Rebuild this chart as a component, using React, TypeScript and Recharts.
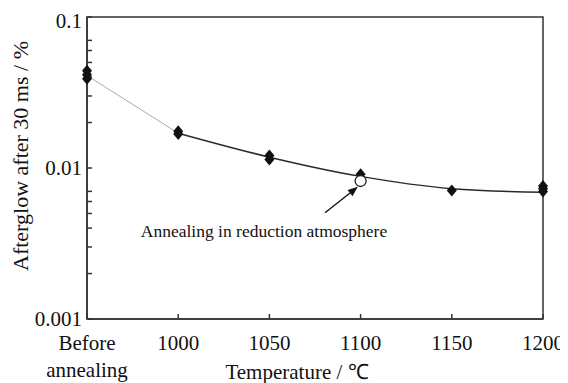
import React from 'react';
import { ComposedChart, XAxis, YAxis, Line, Scatter, ReferenceArea, ReferenceLine } from 'recharts';

// 950 is a placeholder position for the "Before annealing" category
const temperatures = [950, 1000, 1050, 1100, 1150, 1200];
const tickNames = ['Before|annealing', '1000', '1050', '1100', '1150', '1200'];

// individual afterglow measurements (%), several samples per temperature
const sampleTemps = [950, 950, 950, 1000, 1000, 1050, 1050, 1100, 1150, 1200, 1200, 1200];
const sampleValues = [0.044, 0.0415, 0.039, 0.0175, 0.0168, 0.0121, 0.0114, 0.0091, 0.0071, 0.0076, 0.0073, 0.007];

// sample annealed in reduction atmosphere
const reductionTemps = [1100];
const reductionValues = [0.0082];

// trend curve
const trendTemps = [950, 1000, 1050, 1100, 1150, 1200];
const trendValues = [0.041, 0.017, 0.0118, 0.0088, 0.0073, 0.0069];

const yTicks = [
  0.001, 0.002, 0.003, 0.004, 0.005, 0.006, 0.007, 0.008, 0.009,
  0.01, 0.02, 0.03, 0.04, 0.05, 0.06, 0.07, 0.08, 0.09, 0.1,
];
const yLabels: Record<string, string> = { '0.001': '0.001', '0.01': '0.01', '0.1': '0.1' };

// arrow from the note to the reduction-atmosphere point
const arrowFrom = { t: 1080.5, v: 0.00505 };
const arrowTo = { t: 1098.5, v: 0.0075 };

const FONT = 'Liberation Serif, serif';
const textStyle = { fontFamily: FONT };

const samples = sampleTemps.map((t, i) => ({ t, v: sampleValues[i] }));
const reduction = reductionTemps.map((t, i) => ({ t, v: reductionValues[i] }));
const trend = trendTemps.map((t, i) => ({ t, v: trendValues[i] }));
const trendHead = trend.slice(0, 2);
const trendTail = trend.slice(1);

const Diamond = (props: any) => {
  const { cx, cy } = props;
  if (cx == null || cy == null) return null;
  return <polygon points={`${cx},${cy - 6} ${cx + 5},${cy} ${cx},${cy + 6} ${cx - 5},${cy}`} fill="#111" />;
};

const OpenCircle = (props: any) => {
  const { cx, cy } = props;
  if (cx == null || cy == null) return null;
  return <circle cx={cx} cy={cy} r={5.5} fill="#fff" stroke="#222" strokeWidth={1.3} />;
};

const XTick = (props: any) => {
  const { x, y, payload } = props;
  const idx = temperatures.indexOf(payload.value);
  const lines = (idx >= 0 ? tickNames[idx] : String(payload.value)).split('|');
  return (
    <text x={x} y={y} textAnchor="middle" style={textStyle} fontSize={21} fill="#111">
      {lines.map((s, i) => (
        <tspan key={i} x={x} dy={i === 0 ? 31 : 27}>{s}</tspan>
      ))}
    </text>
  );
};

const Arrow = (props: any) => {
  const { x1, y1, x2, y2 } = props;
  if ([x1, y1, x2, y2].some((n) => n == null || isNaN(n))) return null;
  const dx = x2 - x1;
  const dy = y2 - y1;
  const len = Math.hypot(dx, dy);
  const ux = dx / len;
  const uy = dy / len;
  const bx = x2 - ux * 10;
  const by = y2 - uy * 10;
  const head = `${x2},${y2} ${bx - uy * 4},${by + ux * 4} ${bx + uy * 4},${by - ux * 4}`;
  return (
    <g>
      <line x1={x1} y1={y1} x2={bx} y2={by} stroke="#111" strokeWidth={1.4} />
      <polygon points={head} fill="#111" />
      <text x={x1 - 61} y={y1 + 24} textAnchor="middle" style={textStyle} fontSize={17.5} fill="#111">
        Annealing in reduction atmosphere
      </text>
    </g>
  );
};

export default function App() {
  return (
    <ComposedChart
      width={560}
      height={375}
      margin={{ top: 9, right: 25, left: 0, bottom: 0 }}
      style={{ ...textStyle, overflow: 'visible' }}
    >
      <XAxis
        xAxisId="t"
        dataKey="t"
        type="number"
        domain={[950, 1200]}
        ticks={temperatures}
        height={64}
        stroke="#333"
        strokeWidth={1.5}
        tickSize={-5}
        tickMargin={5}
        tick={<XTick />}
        label={(p: any) => {
          const vb = p.viewBox || {};
          return (
            <text x={vb.x + vb.width / 2 - 18} y={vb.y + 60} textAnchor="middle" style={textStyle} fontSize={21} fill="#111">
              Temperature / ℃
            </text>
          );
        }}
      />
      <YAxis
        yAxisId="v"
        dataKey="v"
        scale="log"
        domain={[0.001, 0.1]}
        ticks={yTicks}
        allowDataOverflow
        width={79}
        stroke="#333"
        strokeWidth={1.5}
        tickSize={-5}
        tickMargin={10}
        tickFormatter={(v: number) => yLabels[String(v)] ?? ''}
        tick={{ fontFamily: FONT, fontSize: 21, fill: '#111' }}
        label={(p: any) => {
          const vb = p.viewBox || {};
          const cx = vb.x + 12;
          const cy = vb.y + vb.height / 2 - 12;
          return (
            <text x={cx} y={cy} transform={`rotate(-90 ${cx} ${cy})`} textAnchor="middle" dominantBaseline="central" style={textStyle} fontSize={22} fill="#111">
              Afterglow after 30 ms / %
            </text>
          );
        }}
      />
      <ReferenceArea xAxisId="t" yAxisId="v" x1={950} x2={1200} y1={0.001} y2={0.1} fill="none" stroke="#333" strokeWidth={1.5} ifOverflow="visible" />
      <Line xAxisId="t" yAxisId="v" data={trendHead} dataKey="v" type="linear" stroke="#aaa" strokeWidth={1} dot={false} isAnimationActive={false} />
      <Line xAxisId="t" yAxisId="v" data={trendTail} dataKey="v" type="monotone" stroke="#2a2a2a" strokeWidth={1.5} dot={false} isAnimationActive={false} />
      <Scatter xAxisId="t" yAxisId="v" data={samples} dataKey="v" shape={<Diamond />} isAnimationActive={false} />
      <Scatter xAxisId="t" yAxisId="v" data={reduction} dataKey="v" shape={<OpenCircle />} isAnimationActive={false} />
      <ReferenceLine
        xAxisId="t"
        yAxisId="v"
        segment={[{ x: arrowFrom.t, y: arrowFrom.v }, { x: arrowTo.t, y: arrowTo.v }]}
        ifOverflow="visible"
        shape={(p: any) => <Arrow {...p} />}
      />
    </ComposedChart>
  );
}
